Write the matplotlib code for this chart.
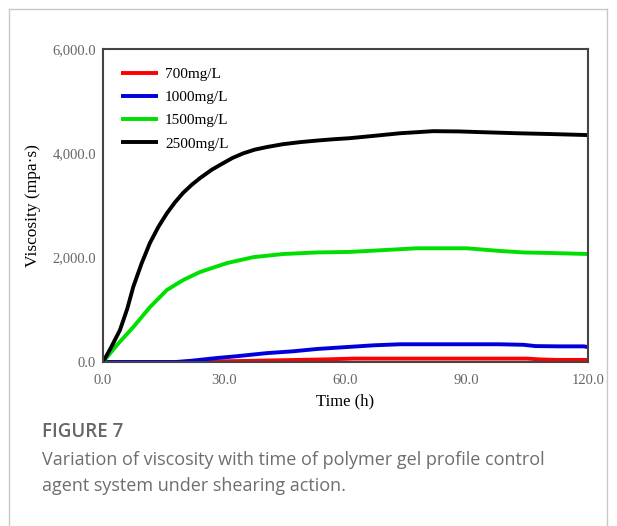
import matplotlib
matplotlib.use("Agg")
import matplotlib.pyplot as plt
from matplotlib.lines import Line2D
from matplotlib.ticker import FuncFormatter

# viscosity (mpa*s), time in hours
t_700 = [0, 18, 25, 35, 45, 55, 62, 75, 90, 105, 108, 112, 120]
v_700 = [0, 0, 8, 20, 35, 50, 65, 65, 65, 65, 50, 40, 40]

t_1000 = [0, 18, 22, 28, 33, 40.5, 47, 53, 61, 67, 73.5, 86, 98, 104, 107, 113, 119, 120]
v_1000 = [0, 0, 25, 75, 110, 170, 205, 250, 290, 320, 340, 340, 340, 330, 305, 300, 300, 285]

t_1500 = [0, 3.5, 7.5, 11.6, 15.8, 19.8, 24, 30.6, 37.2, 44.6, 52.9, 61, 69.4, 77.7, 90, 98, 104, 110.6, 120]
v_1500 = [0, 330, 670, 1050, 1380, 1570, 1725, 1895, 2010, 2070, 2100, 2110, 2145, 2180, 2180, 2130, 2100, 2090, 2070]

t_2500 = [0, 2, 4.2, 6, 7.5, 9.5, 11.6, 13.7, 15.8, 17.8, 19.8, 22, 24, 27, 29.7, 32, 34.7, 37.5, 40.5,
          44.5, 48.8, 53, 57, 61, 67, 73.5, 81.7, 88, 94, 102.5, 110.6, 120]
v_2500 = [0, 280, 613, 1020, 1443, 1880, 2280, 2590, 2850, 3060, 3240, 3400, 3525, 3690, 3810, 3910, 4000, 4070, 4120,
          4175, 4215, 4245, 4270, 4290, 4335, 4385, 4425, 4420, 4405, 4385, 4370, 4350]

series = [
    ('700mg/L', t_700, v_700, '#ff0000'),
    ('1000mg/L', t_1000, v_1000, '#0000dd'),
    ('1500mg/L', t_1500, v_1500, '#00e000'),
    ('2500mg/L', t_2500, v_2500, '#000000'),
]

x_ticks = [0, 30, 60, 90, 120]
y_ticks = [0, 2000, 4000, 6000]

serif = ['Liberation Serif', 'DejaVu Serif']

fig = plt.figure(figsize=(6.17, 5.26), dpi=100)
fig.patch.set_facecolor('white')

# light frame round the figure card
gray = '#c8c8c8'
fig.add_artist(Line2D([9/617, 9/617], [0, 1 - 9/526], color=gray, lw=1))
fig.add_artist(Line2D([9/617, 607/617], [1 - 9/526, 1 - 9/526], color=gray, lw=1))
fig.add_artist(Line2D([607/617, 607/617], [0, 1 - 9/526], color=gray, lw=1))

ax = fig.add_axes([103/617, 1 - 362/526, 485/617, 313/526])

for label, t, v, c in series:
    ax.plot(t, v, color=c, lw=2.8, label=label, solid_capstyle='butt', solid_joinstyle='round')

ax.set_xlim(0, 120)
ax.set_ylim(0, 6000)
ax.set_xticks(x_ticks)
ax.set_yticks(y_ticks)
ax.xaxis.set_major_formatter(FuncFormatter(lambda v, p: f'{v:,.1f}'))
ax.yaxis.set_major_formatter(FuncFormatter(lambda v, p: f'{v:,.1f}'))
ax.tick_params(length=0, labelsize=10.5, labelcolor='#666666')
ax.tick_params(axis='x', pad=9)
ax.tick_params(axis='y', pad=5)
for lab in ax.get_xticklabels() + ax.get_yticklabels():
    lab.set_family(serif)

for spine in ax.spines.values():
    spine.set_color('#444444')
    spine.set_linewidth(1.5)

ax.set_xlabel('Time (h)', family=serif, fontsize=12, labelpad=4)
ax.set_ylabel('Viscosity (mpa·s)', family=serif, fontsize=12.5, labelpad=8)

ax.legend(loc='upper left', frameon=False, prop={'family': serif, 'size': 11},
          handlelength=2.4, handletextpad=0.45, labelspacing=0.62,
          borderaxespad=0.9, borderpad=0.3)

# caption
cap = ['Open Sans', 'DejaVu Sans']
fig.text(42/617, 1 - 432/526, 'FIGURE 7', family=cap, fontsize=13.5,
         fontweight='semibold', color='#666666', va='center')
fig.text(42/617, 1 - 460/526, 'Variation of viscosity with time of polymer gel profile control',
         family=cap, fontsize=13, color='#6e6e6e', va='center')
fig.text(42/617, 1 - 486/526, 'agent system under shearing action.',
         family=cap, fontsize=13, color='#6e6e6e', va='center')

fig.savefig('out.png', dpi=100)
